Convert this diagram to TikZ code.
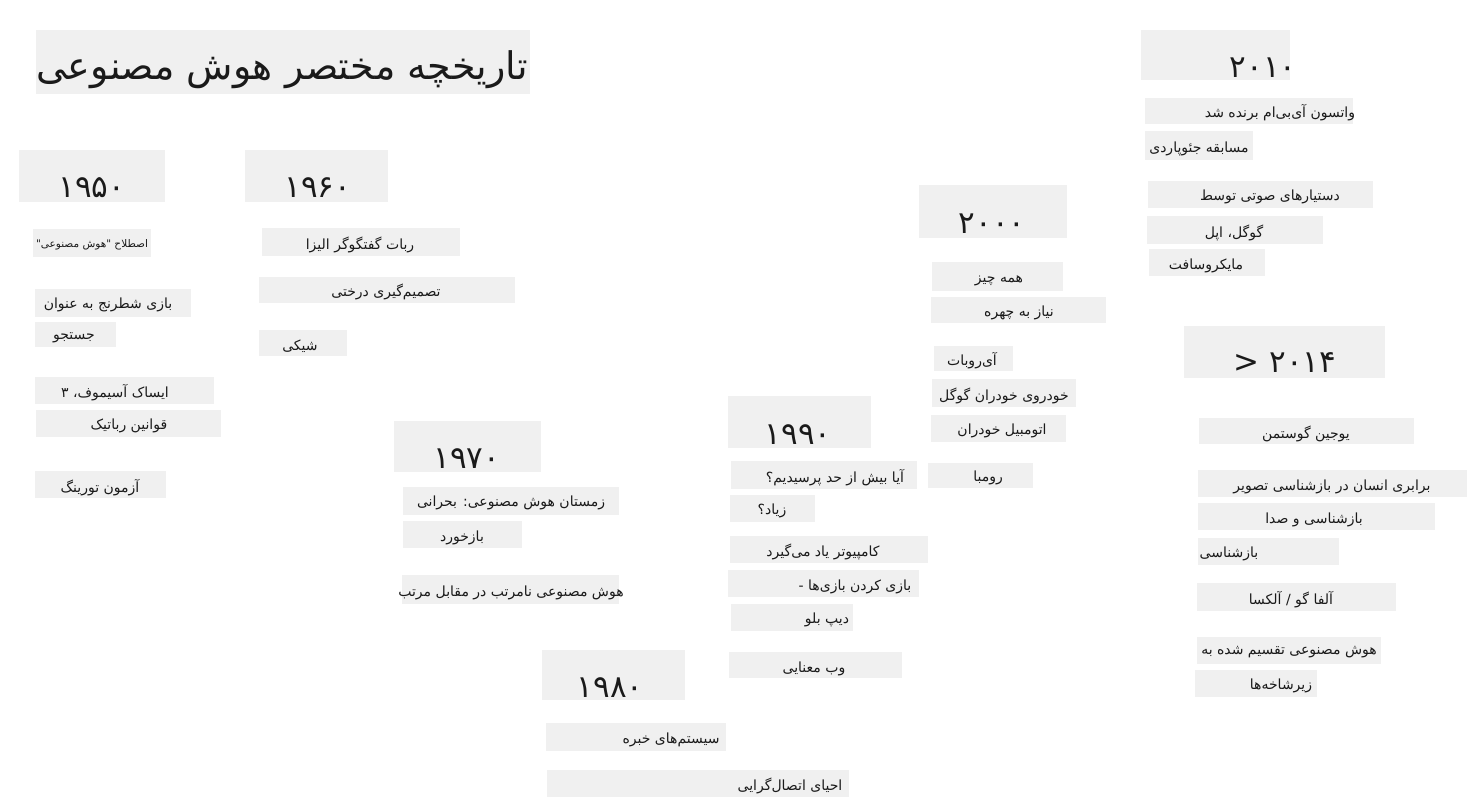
\documentclass[tikz,border=0pt]{standalone}
\usepackage{fontspec}
\newfontfamily\farsi[Script=Arabic]{DejaVu Sans}
\TeXXeTstate=1
\definecolor{boxgray}{HTML}{F0F0F0}
\definecolor{inkblack}{HTML}{1A1A1A}
\newcommand{\fa}[1]{\beginR #1\endR}

\begin{document}
\begin{tikzpicture}[x=1pt,y=-1pt,
  every node/.style={text=inkblack,inner sep=0pt},
  yearlbl/.style={font=\farsi\fontsize{31}{34}\selectfont},
  entry/.style={font=\farsi\fontsize{14}{16}\selectfont}]
\useasboundingbox (0,0) rectangle (1480,808);
% title
\fill[boxgray] (36,30) rectangle (530,94);
\node[font=\farsi\fontsize{38}{42}\selectfont] (title) at (282,70) {\fa{تاریخچه مختصر هوش مصنوعی}};
% decades (the Arabic-script run mirrors the angle sign)
\foreach \n/\xa/\ya/\xb/\yb/\tx/\ty/\yr in {
  y1950/19/150/165/202/92/188/۱۹۵۰,
  y1960/245/150/388/202/318/188/۱۹۶۰,
  y1970/394/421/541/472/467/459/۱۹۷۰,
  y1980/542/650/685/700/610/688/۱۹۸۰,
  y1990/728/396/871/448/798/435/۱۹۹۰,
  y2000/919/185/1067/238/992/224/۲۰۰۰,
  y2010/1141/30/1290/80/1263/68/۲۰۱۰,
  y2014/1184/326/1385/378/1285/363/{< ۲۰۱۴}}{
  \fill[boxgray] (\xa,\ya) rectangle (\xb,\yb);
  \node[yearlbl] (\n) at (\tx,\ty) {\yr};
}
% entries
\foreach \n/\xa/\ya/\xb/\yb/\tx/\ty/\txt in {
  a2/35/289/191/317/108/305/بازی شطرنج به عنوان,
  a3/35/322/116/347/74/338/جستجو,
  a4/35/377/214/404/115/393/ایساک آسیموف، ۳,
  a5/36/410/221/437/129/426/قوانین رباتیک,
  a6/35/471/166/498/100/488/آزمون تورینگ,
  b1/262/228/460/256/360/245/ربات گفتگوگر الیزا,
  b2/259/277/515/303/386/292/تصمیم‌گیری درختی,
  b3/259/330/347/356/300/346/شیکی,
  c1/403/487/619/515/511/503/زمستان هوش مصنوعی: بحرانی,
  c2/403/521/522/548/462/538/بازخورد,
  c3/402/575/619/604/511/593/هوش مصنوعی نامرتب در مقابل مرتب,
  d1/546/723/726/751/671/740/سیستم‌های خبره,
  d2/547/770/849/797/790/786/احیای اتصال‌گرایی,
  e1/731/461/917/489/835/478/آیا بیش از حد پرسیدیم؟,
  e2/730/495/815/522/772/511/زیاد؟,
  e3/730/536/928/563/823/552/کامپیوتر یاد می‌گیرد,
  e4/728/570/919/597/855/587/بازی کردن بازی‌ها -,
  e5/731/604/853/631/827/620/دیپ بلو,
  e6/729/652/902/678/814/669/وب معنایی,
  f1/932/262/1063/291/999/281/همه چیز,
  f2/931/297/1106/323/1019/313/نیاز به چهره,
  f3/934/346/1013/371/972/361/آی‌روبات,
  f4/932/379/1076/407/1004/396/خودروی خودران گوگل,
  f5/931/415/1066/442/1002/431/اتومبیل خودران,
  f6/928/463/1033/488/988/478/رومبا,
  g1/1145/98/1353/124/1280/113/واتسون آی‌بی‌ام برنده شد,
  g2/1145/131/1253/160/1199/149/مسابقه جئوپاردی,
  g3/1148/181/1373/208/1270/197/دستیارهای صوتی توسط,
  g4/1147/216/1323/244/1234/233/گوگل، اپل,
  g5/1149/249/1265/276/1206/266/مایکروسافت,
  h1/1199/418/1414/444/1306/434/یوجین گوستمن,
  h2/1198/470/1467/497/1332/487/برابری انسان در بازشناسی تصویر,
  h3/1198/503/1435/530/1314/520/بازشناسی و صدا,
  h4/1198/538/1339/565/1229/554/بازشناسی,
  h5/1197/583/1396/611/1291/600/{آلفا گو / آلکسا},
  h6/1197/637/1381/664/1289/652/هوش مصنوعی تقسیم شده به,
  h7/1195/670/1317/697/1281/686/زیرشاخه‌ها}{
  \fill[boxgray] (\xa,\ya) rectangle (\xb,\yb);
  \node[entry] (\n) at (\tx,\ty) {\fa{\txt}};
}
% small label under 1950
\fill[boxgray] (33,229) rectangle (151,257);
\node[entry,font=\farsi\fontsize{10.5}{12}\selectfont] (a1) at (92,245) {\fa{اصطلاح "هوش مصنوعی"}};
\end{tikzpicture}
\end{document}
